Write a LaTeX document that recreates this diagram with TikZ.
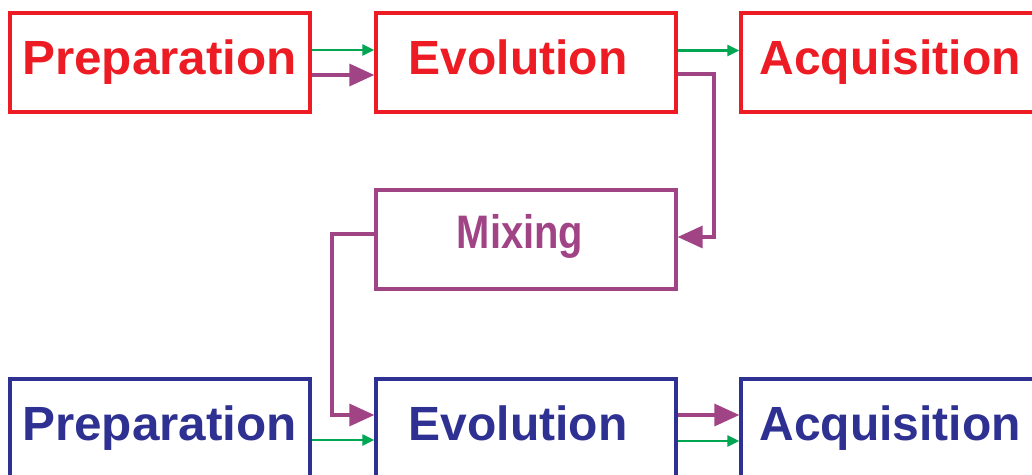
\documentclass[tikz,border=0pt]{standalone}
\usepackage{fontspec}
\setmainfont{Liberation Sans}
\usetikzlibrary{arrows.meta,calc}
\definecolor{cred}{RGB}{237,28,36}
\definecolor{cblue}{RGB}{46,49,146}
\definecolor{cpurp}{RGB}{161,68,133}
\definecolor{cgreen}{RGB}{0,166,81}
\newcommand{\wide}[1]{\scalebox{1.03}[1]{#1}}
\begin{document}
\begin{tikzpicture}[x=1pt,y=-1pt,
  box/.style={draw,line width=3.3pt,minimum width=300pt,minimum height=99pt,inner sep=0pt},
  lbl/.style={anchor=base,inner sep=0pt,font=\fontsize{48}{58}\selectfont\bfseries},
  garrow/.style={draw=cgreen,line width=2.2pt,-{Triangle[length=12pt,width=11pt]}},
  parrow/.style={draw=cpurp,line width=3.4pt,-{Triangle[length=25pt,width=22pt]}}]
\useasboundingbox (0,0) rectangle (1032,474);
% boxes
\node[box,draw=cred] (prep1) at (160,62.5) {};
\node[box,draw=cred] (evo1) at (526,62.5) {};
\node[box,draw=cred] (acq1) at (891,62.5) {};
\node[box,draw=cpurp] (mix) at (526,239.5) {};
\node[box,draw=cblue] (prep2) at (160,428.5) {};
\node[box,draw=cblue] (evo2) at (526,428.5) {};
\node[box,draw=cblue] (acq2) at (891,428.5) {};
% labels
\node[lbl,text=cred] (tprep1) at (159.5,74) {\wide{Preparation}};
\node[lbl,text=cred] (tevo1) at (518,74) {Evolution};
\node[lbl,text=cred] (tacq1) at (890,74) {Acquisition};
\node[lbl,text=cpurp,font=\fontsize{47}{56}\selectfont\bfseries] (tmix) at (520,248) {\scalebox{0.85}[1]{Mixing}};
\node[lbl,text=cblue] (tprep2) at (159.5,440) {\wide{Preparation}};
\node[lbl,text=cblue] (tevo2) at (518,440) {Evolution};
\node[lbl,text=cblue] (tacq2) at (890,440) {Acquisition};
% arrows top row
\draw[garrow] ([yshift=12.5pt]prep1.east) -- ([yshift=12.5pt]evo1.west);
\draw[parrow] ([yshift=-12.5pt]prep1.east) -- ([yshift=-12.5pt]evo1.west);
\draw[garrow] ([yshift=12pt]evo1.east) -- ([yshift=12pt]acq1.west);
\coordinate (c1) at (714,74);
\coordinate (c2) at (714,237);
\draw[parrow] ([yshift=-11.5pt]evo1.east) -- (c1) -- (c2) -- ([yshift=2.5pt]mix.east);
% mixing to bottom
\coordinate (c3) at (332,234);
\coordinate (c4) at (332,415);
\draw[parrow] ([yshift=5.5pt]mix.west) -- (c3) -- (c4) -- ([yshift=13.5pt]evo2.west);
\draw[garrow] ([yshift=-11.5pt]prep2.east) -- ([yshift=-11.5pt]evo2.west);
% bottom row
\draw[parrow] ([yshift=13.5pt]evo2.east) -- ([yshift=13.5pt]acq2.west);
\draw[garrow] ([yshift=-12.5pt]evo2.east) -- ([yshift=-12.5pt]acq2.west);
\end{tikzpicture}
\end{document}
